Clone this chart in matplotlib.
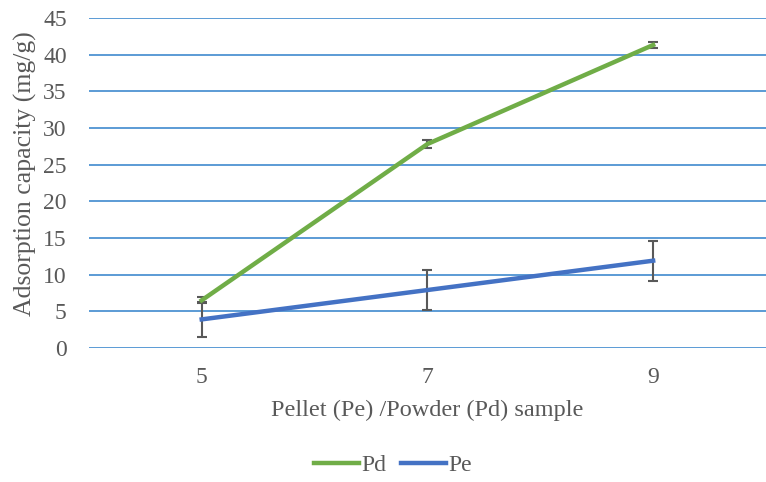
import numpy as np
import matplotlib.pyplot as plt

samples = ["5", "7", "9"]
pd_values = [6.5, 27.8, 41.3]
pd_err = [0.4, 0.5, 0.35]
pe_values = [3.9, 7.9, 11.9]
pe_err = [2.4, 2.7, 2.7]
y_ticks = [0, 5, 10, 15, 20, 25, 30, 35, 40, 45]

plt.rcParams["font.family"] = ["Liberation Serif", "DejaVu Serif"]

fig = plt.figure(figsize=(7.66, 4.82), dpi=100)
ax = fig.add_axes([0.116, 0.278, 0.884, 0.685])

x = np.arange(len(samples))
grid_color = "#5B9BD5"
for y in y_ticks:
    ax.axhline(y, color=grid_color, lw=1.4, zorder=1)

ax.errorbar(x, pd_values, yerr=pd_err, color="#70AD47", lw=3.2,
            ecolor="#595959", elinewidth=1.5, capsize=3.5, capthick=1.5,
            label="Pd", zorder=3)
ax.errorbar(x, pe_values, yerr=pe_err, color="#4472C4", lw=3.2,
            ecolor="#595959", elinewidth=1.5, capsize=3.5, capthick=1.5,
            label="Pe", zorder=3)

ax.set_xlim(-0.5, 2.5)
ax.set_ylim(0, 45)
ax.set_xticks(x)
ax.set_xticklabels(samples)
ax.set_yticks(y_ticks)
ax.tick_params(length=0, labelsize=17, colors="#595959")
ax.tick_params(axis="y", pad=16)
ax.tick_params(axis="x", pad=14)
for s in ax.spines.values():
    s.set_visible(False)

ax.set_xlabel("Pellet (Pe) /Powder (Pd) sample", fontsize=17.5, color="#595959", labelpad=8)
ax.set_ylabel("Adsorption capacity (mg/g)", fontsize=18.5, color="#595959",
              va="center")
ax.yaxis.set_label_coords(-0.094, 0.527)

handles, labels = ax.get_legend_handles_labels()
handles = [h[0] for h in handles]
fig.legend(handles, labels, loc="center", bbox_to_anchor=(0.513, 0.035), ncol=2,
           frameon=False, fontsize=17, handlelength=1.9, handletextpad=0.1,
           columnspacing=0.6, labelcolor="#595959")

fig.savefig("out.png", dpi=100)
